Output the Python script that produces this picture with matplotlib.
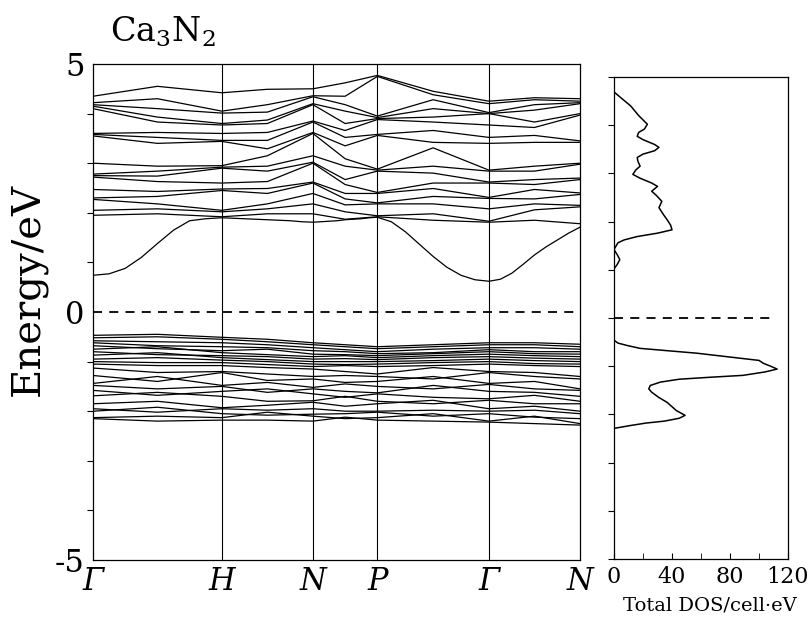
import matplotlib
matplotlib.use('Agg')
import matplotlib.pyplot as plt
import numpy as np

plt.rcParams['font.family'] = ['DejaVu Serif']
plt.rcParams['mathtext.fontset'] = 'dejavuserif'
plt.rcParams['axes.unicode_minus'] = False

# high symmetry points along the bcc path
k_labels = ['Γ', 'H', 'N', 'P', 'Γ', 'N']
k_nodes = np.array([0.0, 1.0, 1.707, 2.207, 3.073, 3.780])

# band energies (eV) at  Γ, mid, H, mid, N, mid, P, mid, Γ, mid, N
conduction_bands = [
    [1.95, 1.98, 1.92, 1.98, 1.98, 1.87, 1.92, 1.85, 1.81, 1.85, 1.78],
    [2.05, 2.08, 2.02, 2.08, 2.18, 2.02, 1.94, 1.98, 1.83, 2.06, 2.12],
    [2.27, 2.18, 2.05, 2.18, 2.39, 2.16, 2.18, 2.18, 2.08, 2.18, 2.15],
    [2.30, 2.33, 2.45, 2.39, 2.60, 2.28, 2.20, 2.33, 2.29, 2.28, 2.37],
    [2.47, 2.43, 2.48, 2.49, 2.62, 2.39, 2.39, 2.49, 2.31, 2.47, 2.40],
    [2.72, 2.63, 2.60, 2.63, 3.00, 2.57, 2.41, 2.60, 2.60, 2.57, 2.67],
    [2.75, 2.74, 2.90, 2.84, 3.02, 2.67, 2.84, 2.80, 2.62, 2.67, 2.70],
    [2.78, 2.84, 2.92, 2.94, 3.15, 2.94, 2.86, 2.94, 2.84, 2.84, 2.98],
    [3.00, 2.94, 2.95, 3.15, 3.60, 3.09, 2.88, 3.31, 2.86, 2.94, 3.00],
    [3.55, 3.40, 3.44, 3.29, 3.62, 3.35, 3.56, 3.42, 3.40, 3.42, 3.42],
    [3.58, 3.52, 3.46, 3.46, 3.83, 3.52, 3.58, 3.66, 3.52, 3.56, 3.45],
    [3.60, 3.62, 3.60, 3.62, 3.85, 3.66, 3.88, 3.83, 3.77, 3.72, 3.97],
    [4.10, 3.83, 3.77, 3.80, 4.18, 3.80, 3.90, 3.93, 4.00, 3.83, 4.00],
    [4.15, 3.93, 3.80, 3.87, 4.20, 4.05, 3.92, 4.10, 4.00, 4.07, 4.20],
    [4.18, 4.10, 4.01, 4.03, 4.34, 4.18, 3.95, 4.28, 4.02, 4.18, 4.22],
    [4.22, 4.30, 4.05, 4.18, 4.36, 4.35, 4.75, 4.38, 4.20, 4.28, 4.25],
    [4.35, 4.55, 4.42, 4.49, 4.50, 4.62, 4.77, 4.45, 4.25, 4.32, 4.30],
]

# lowest conduction band, 8 samples per segment
lowest_cb = [0.74, 0.77, 0.88, 1.10, 1.38, 1.65, 1.84, 1.88,
             1.90, 1.89, 1.88, 1.87, 1.86, 1.85, 1.84, 1.82,
             1.81, 1.82, 1.83, 1.84, 1.86, 1.87, 1.88, 1.90,
             1.91, 1.82, 1.62, 1.37, 1.12, 0.90, 0.74, 0.65,
             0.62, 0.66, 0.78, 0.96, 1.15, 1.31, 1.45, 1.59, 1.71]

valence_bands = [
    [-0.47, -0.45, -0.51, -0.55, -0.62, -0.66, -0.70, -0.66, -0.62, -0.62, -0.65],
    [-0.52, -0.50, -0.55, -0.60, -0.66, -0.70, -0.74, -0.70, -0.66, -0.66, -0.70],
    [-0.58, -0.60, -0.62, -0.66, -0.72, -0.76, -0.80, -0.75, -0.72, -0.72, -0.75],
    [-0.62, -0.68, -0.70, -0.72, -0.78, -0.80, -0.84, -0.82, -0.76, -0.80, -0.80],
    [-0.68, -0.74, -0.78, -0.75, -0.85, -0.86, -0.88, -0.84, -0.80, -0.84, -0.85],
    [-0.75, -0.70, -0.82, -0.86, -0.90, -0.88, -0.92, -0.88, -0.85, -0.88, -0.90],
    [-0.80, -0.86, -0.88, -0.90, -0.95, -0.94, -0.96, -0.92, -0.90, -0.93, -0.95],
    [-0.87, -0.82, -0.92, -0.96, -1.00, -1.00, -1.00, -0.98, -0.95, -0.98, -1.00],
    [-0.95, -0.92, -0.97, -1.00, -1.05, -1.06, -1.05, -1.02, -1.00, -1.04, -1.05],
    [-1.00, -1.02, -1.02, -1.06, -1.10, -1.08, -1.10, -1.08, -1.05, -1.08, -1.10],
    [-1.05, -1.08, -1.08, -1.12, -1.15, -1.20, -1.25, -1.12, -1.20, -1.22, -1.30],
    [-1.13, -1.22, -1.20, -1.25, -1.30, -1.28, -1.30, -1.35, -1.22, -1.30, -1.35],
    [-1.28, -1.40, -1.22, -1.38, -1.35, -1.42, -1.40, -1.30, -1.44, -1.40, -1.55],
    [-1.44, -1.30, -1.48, -1.42, -1.52, -1.45, -1.50, -1.55, -1.46, -1.55, -1.58],
    [-1.48, -1.55, -1.50, -1.62, -1.55, -1.60, -1.63, -1.48, -1.60, -1.62, -1.70],
    [-1.58, -1.68, -1.60, -1.55, -1.65, -1.72, -1.65, -1.72, -1.75, -1.68, -1.80],
    [-1.69, -1.62, -1.70, -1.80, -1.79, -1.70, -1.80, -1.85, -1.78, -1.85, -1.85],
    [-1.85, -1.80, -1.93, -1.88, -1.82, -1.90, -1.85, -1.78, -1.95, -1.90, -2.00],
    [-1.95, -2.02, -1.95, -1.98, -1.95, -2.00, -2.00, -1.98, -2.00, -1.98, -2.05],
    [-2.00, -1.92, -2.05, -2.08, -2.06, -2.05, -2.02, -2.10, -2.05, -2.12, -2.15],
    [-2.13, -2.10, -2.13, -2.02, -2.10, -2.15, -2.13, -2.05, -2.20, -2.10, -2.25],
    [-2.15, -2.20, -2.18, -2.18, -2.20, -2.12, -2.18, -2.20, -2.22, -2.25, -2.28],
]

# total density of states (energy, states/cell eV)
dos_energy = [5.0, 4.69, 4.55, 4.40, 4.20, 4.02, 3.92, 3.85, 3.77, 3.70, 3.60, 3.54,
              3.47, 3.40, 3.33, 3.25, 3.15, 3.07, 2.98, 2.90, 2.80, 2.73, 2.63, 2.55,
              2.42, 2.29, 2.15, 2.04, 1.93, 1.83, 1.76, 1.69, 1.62, 1.56, 1.42, 1.30,
              1.21, 1.10, 1.02,
              -0.46, -0.52, -0.57, -0.63, -0.73, -0.88, -0.94, -1.00, -1.06, -1.12,
              -1.19, -1.23, -1.27, -1.33, -1.40, -1.47, -1.54, -1.65, -1.75, -1.92,
              -2.02, -2.08, -2.14, -2.18, -2.23, -2.29, -5.0]
dos_total = [0, 0, 5.5, 11.5, 17, 23, 21, 17, 16, 20, 28, 31,
             28, 20, 16, 16.5, 18, 15, 13, 18, 26, 30, 26, 29,
             33, 31, 34, 36.6, 39, 40, 30, 16, 7, 2.7, 0, 2.5,
             4, 2, 0,
             0, 2.7, 9, 18, 57, 100, 103, 108, 112.5, 104,
             89, 66, 45, 32, 25, 24, 26, 31, 36.6, 43,
             49, 45, 34.6, 22, 11.5, 0, 0]

k_mid = (k_nodes[:-1] + k_nodes[1:]) / 2
k_grid = np.sort(np.concatenate([k_nodes, k_mid]))
k_fine = np.concatenate([np.linspace(a, b, 9)[:-1] for a, b in zip(k_nodes[:-1], k_nodes[1:])]
                        + [k_nodes[-1:]])

fig = plt.figure(figsize=(8.12, 6.17), dpi=100)
ax = fig.add_axes([93 / 812, 1 - 560 / 617, 487 / 812, 496 / 617])
ax_dos = fig.add_axes([614 / 812, 1 - 559 / 617, 174 / 812, 482 / 617])

# band structure
for band in conduction_bands + valence_bands:
    ax.plot(k_grid, band, color='black', lw=0.9)
ax.plot(k_fine, lowest_cb, color='black', lw=0.9)
for k in k_nodes[1:-1]:
    ax.axvline(k, color='black', lw=0.8)
ax.axhline(0, color='black', lw=1.3, ls=(0, (5, 4)))

ax.set_xlim(k_nodes[0], k_nodes[-1])
ax.set_ylim(-5, 5)
ax.set_xticks(k_nodes)
ax.set_xticklabels(k_labels, fontsize=22, style='italic')
ax.tick_params(axis='x', length=0, pad=4)
ax.set_yticks([-5, 0, 5])
ax.set_yticklabels(['-5', '0', '5'], fontsize=22)
ax.set_yticks(np.arange(-5, 6), minor=True)
ax.tick_params(axis='y', which='major', length=0, pad=6)
ax.tick_params(axis='y', which='minor', length=4, width=0.8, direction='out')
for s in ax.spines.values():
    s.set_linewidth(0.9)

fig.text(28 / 812, 1 - 290 / 617, 'Energy/eV', rotation=90, ha='center', va='center',
         fontsize=29)
fig.text(110 / 812, 1 - 32 / 617, r'Ca$_3$N$_2$', ha='left', va='center', fontsize=24)

# DOS panel
ax_dos.plot(dos_total, dos_energy, color='black', lw=1.1)
ax_dos.plot([0, 110], [0, 0], color='black', lw=1.3, ls=(0, (5, 4)))
ax_dos.set_xlim(0, 120)
ax_dos.set_ylim(-5, 5)
ax_dos.set_xticks([0, 40, 80, 120])
ax_dos.set_xticklabels(['0', '40', '80', '120'], fontsize=16)
ax_dos.set_xticks([20, 60, 100], minor=True)
ax_dos.tick_params(axis='x', which='both', length=4, direction='in', pad=5)
ax_dos.set_yticks([])
ax_dos.set_yticks(np.arange(-5, 6), minor=True)
ax_dos.tick_params(axis='y', which='minor', length=4, width=0.8, direction='out')
for s in ax_dos.spines.values():
    s.set_linewidth(0.9)
fig.text(710 / 812, 1 - 605 / 617, 'Total DOS/cell·eV', ha='center', va='center',
         fontsize=14)

fig.savefig('out.png', dpi=100)
